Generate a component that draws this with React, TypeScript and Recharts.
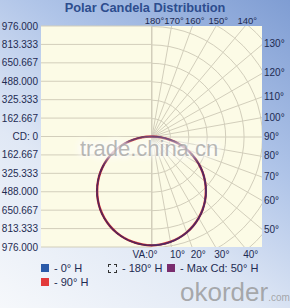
import React from "react";
import {
  ComposedChart,
  Line,
  XAxis,
  YAxis,
  ReferenceLine,
  ReferenceDot,
  RadarChart,
  PolarGrid,
} from "recharts";

// candela axis
const MAX_CD = 976;
const CD_TICKS = [-976, -813.333, -650.667, -488, -325.333, -162.667, 0, 162.667, 325.333, 488, 650.667, 813.333, 976];
const RINGS = [162.667, 325.333, 488, 650.667, 813.333, 976, 1138.667, 1301.333];

// vertical angle grid (0 = straight down, 180 = straight up)
const ANGLE_TICKS = [0, 10, 20, 30, 40, 50, 60, 70, 80, 90, 100, 110, 120, 130, 140, 150, 160, 170, 180];

// measured curves, candela per vertical angle
const VA = [0, 5, 10, 15, 20, 25, 30, 35, 40, 45, 50, 55, 60, 65, 70, 75, 80, 85, 90];
const CD_0H = [962, 958, 947, 929, 904, 872, 833, 788, 737, 680, 618, 552, 481, 406, 329, 248, 167, 84, 0];
const CD_90H = [962, 957, 946, 928, 903, 871, 832, 787, 736, 679, 617, 551, 480, 405, 328, 248, 166, 83, 0];
const CD_180H = [962, 958, 947, 929, 904, 872, 833, 788, 737, 680, 618, 552, 481, 406, 329, 248, 167, 84, 0];
const CD_MAX_50H = [962, 958, 947, 929, 904, 872, 833, 789, 737, 681, 618, 552, 481, 406, 329, 249, 167, 84, 0];

const PLOT = { left: 41, top: 26, size: 221 };
const PX = PLOT.size / (2 * MAX_CD);
const R = 160;

const rad = (a: number) => (a * Math.PI) / 180;

const half = (vals: number[], side: number) =>
  VA.map((a, i) => ({ x: side * vals[i] * Math.sin(rad(a)), y: -vals[i] * Math.cos(rad(a)) }));

const both = (vals: number[]) => [...half(vals, -1).reverse(), ...half(vals, 1).slice(1)];

const edgePoint = (va: number) => {
  if (va <= 45) return { x: MAX_CD * Math.tan(rad(va)), y: -MAX_CD, side: "bottom" };
  if (va < 135) return { x: MAX_CD, y: -MAX_CD / Math.tan(rad(va)), side: "right" };
  return { x: -MAX_CD * Math.tan(rad(va)), y: MAX_CD, side: "top" };
};

const TEXT = "#1e2b52";
const GRID = "#d2cebb";
const FONT = "'Liberation Sans', Arial, sans-serif";

const fmtCd = (v: number) => (Math.abs(v) < 1 ? "CD: 0" : Math.abs(v).toFixed(3));

const AngleLabel = (props: any) => {
  const { viewBox, value, side } = props;
  const x = viewBox.x;
  const y = viewBox.y;
  let tx = x;
  let ty = y;
  let size = 10;
  let anchor: "start" | "middle" | "end" = "middle";
  if (side === "bottom") {
    ty = y + 11;
    if (value === "VA:0°") {
      anchor = "end";
      tx = x + 6;
    } else {
      anchor = "start";
      tx = x - 1;
    }
  } else if (side === "right") {
    anchor = "start";
    tx = x + 2;
    ty = y + 3.5;
  } else {
    size = 9.5;
    tx = x + 3;
    ty = y - 2;
  }
  return (
    <text x={tx} y={ty} textAnchor={anchor} fill={TEXT} fontSize={size} fontFamily={FONT}>
      {value}
    </text>
  );
};

const LegendItem = ({ swatch, label }: { swatch: React.ReactNode; label: string }) => (
  <div style={{ display: "flex", alignItems: "center", whiteSpace: "nowrap" }}>
    {swatch}
    <span style={{ marginLeft: 5 }}>{label}</span>
  </div>
);

const sq = (color: string) => (
  <span style={{ display: "inline-block", width: 8, height: 8, background: color }} />
);

export default function App() {
  return (
    <div
      style={{
        position: "absolute",
        left: 0,
        top: 0,
        width: 290,
        height: 308,
        overflow: "hidden",
        fontFamily: FONT,
        background: "linear-gradient(215deg, #7f9dd3 0%, #afc4e8 35%, #e0e8f5 65%, #f6f8fb 100%)",
      }}
    >
      <div
        style={{
          position: "absolute",
          top: 1,
          width: 290,
          textAlign: "center",
          fontWeight: "bold",
          fontSize: 12.8,
          lineHeight: "14px",
          color: "#2d4d8e",
        }}
      >
        Polar Candela Distribution
      </div>

      <div
        style={{
          position: "absolute",
          left: PLOT.left,
          top: PLOT.top,
          width: PLOT.size,
          height: PLOT.size,
          background: "#fcfbe6",
        }}
      />

      <div
        style={{
          position: "absolute",
          left: PLOT.left + PLOT.size / 2,
          top: PLOT.top,
          width: PLOT.size / 2,
          height: PLOT.size,
          overflow: "hidden",
        }}
      >
        <div style={{ position: "absolute", left: -R, top: PLOT.size / 2 - R }}>
          <RadarChart
            width={2 * R}
            height={2 * R}
            cx={R}
            cy={R}
            outerRadius={R}
            margin={{ top: 0, right: 0, bottom: 0, left: 0 }}
            data={ANGLE_TICKS.map((a) => ({ a }))}
          >
            <PolarGrid
              gridType="circle"
              polarAngles={ANGLE_TICKS.map((a) => a - 90)}
              polarRadius={RINGS.map((r) => r * PX)}
              stroke={GRID}
              strokeWidth={1}
            />
          </RadarChart>
        </div>
      </div>

      <div style={{ position: "absolute", left: 0, top: 0 }}>
        <ComposedChart width={290} height={308} margin={{ top: PLOT.top, right: 28, bottom: 61, left: 0 }}>
          <XAxis dataKey="x" type="number" domain={[-MAX_CD, MAX_CD]} allowDataOverflow hide />
          <YAxis
            type="number"
            domain={[-MAX_CD, MAX_CD]}
            ticks={CD_TICKS}
            tickFormatter={fmtCd}
            interval={0}
            width={41}
            axisLine={false}
            tickLine={false}
            tickSize={0}
            tickMargin={3}
            tick={{ fill: TEXT, fontSize: 10, fontFamily: FONT }}
          />
          {CD_TICKS.map((v) => (
            <ReferenceLine
              key={"h" + v}
              segment={[
                { x: -MAX_CD, y: v },
                { x: 0, y: v },
              ]}
              stroke={GRID}
            />
          ))}
          <ReferenceLine x={0} stroke={GRID} />

          <Line data={both(CD_90H)} dataKey="y" type="natural" stroke="#d8383c" strokeWidth={2.4} dot={false} isAnimationActive={false} />
          <Line data={half(CD_0H, 1)} dataKey="y" type="natural" stroke="#2b5aa8" strokeWidth={1.4} dot={false} isAnimationActive={false} />
          <Line data={half(CD_180H, -1)} dataKey="y" type="natural" stroke="#333" strokeWidth={1.2} strokeDasharray="3 2" dot={false} isAnimationActive={false} />
          <Line data={both(CD_MAX_50H)} dataKey="y" type="natural" stroke="#5b2458" strokeWidth={1.6} dot={false} isAnimationActive={false} />

          {ANGLE_TICKS.map((a) => {
            const p = edgePoint(a);
            const value = a === 0 ? "VA:0°" : `${a}°`;
            return (
              <ReferenceDot
                key={"a" + a}
                x={p.x}
                y={p.y}
                r={0}
                fill="none"
                stroke="none"
                ifOverflow="visible"
                label={{ value, content: (lp: any) => <AngleLabel {...lp} value={value} side={p.side} /> }}
              />
            );
          })}
        </ComposedChart>
      </div>

      <div
        style={{
          position: "absolute",
          left: 80,
          top: 136,
          fontSize: 22,
          color: "rgba(160,160,160,0.75)",
          textShadow: "0 0 5px #fff, 0 0 8px #fff, 0 0 10px #fff, 0 0 14px #fff",
          pointerEvents: "none",
        }}
      >
        trade.china.cn
      </div>

      <div style={{ position: "absolute", left: 41, top: 261, fontSize: 11, color: TEXT, lineHeight: "14px" }}>
        <LegendItem swatch={sq("#2b5aa8")} label="- 0° H" />
        <LegendItem swatch={sq("#e23a3a")} label="- 90° H" />
      </div>
      <div style={{ position: "absolute", left: 108, top: 261, fontSize: 11, color: TEXT, lineHeight: "14px" }}>
        <LegendItem
          swatch={<span style={{ display: "inline-block", width: 7, height: 7, border: "1px dashed #333" }} />}
          label="- 180° H"
        />
      </div>
      <div style={{ position: "absolute", left: 167, top: 261, fontSize: 11, color: TEXT, lineHeight: "14px" }}>
        <LegendItem swatch={sq("#7a2d6e")} label="- Max Cd: 50° H" />
      </div>

      <div style={{ position: "absolute", left: 180, top: 277, color: "rgba(150,150,150,0.8)", whiteSpace: "nowrap" }}>
        <span style={{ fontSize: 26 }}>okorder</span>
        <span style={{ fontSize: 10 }}>.com</span>
      </div>
    </div>
  );
}
